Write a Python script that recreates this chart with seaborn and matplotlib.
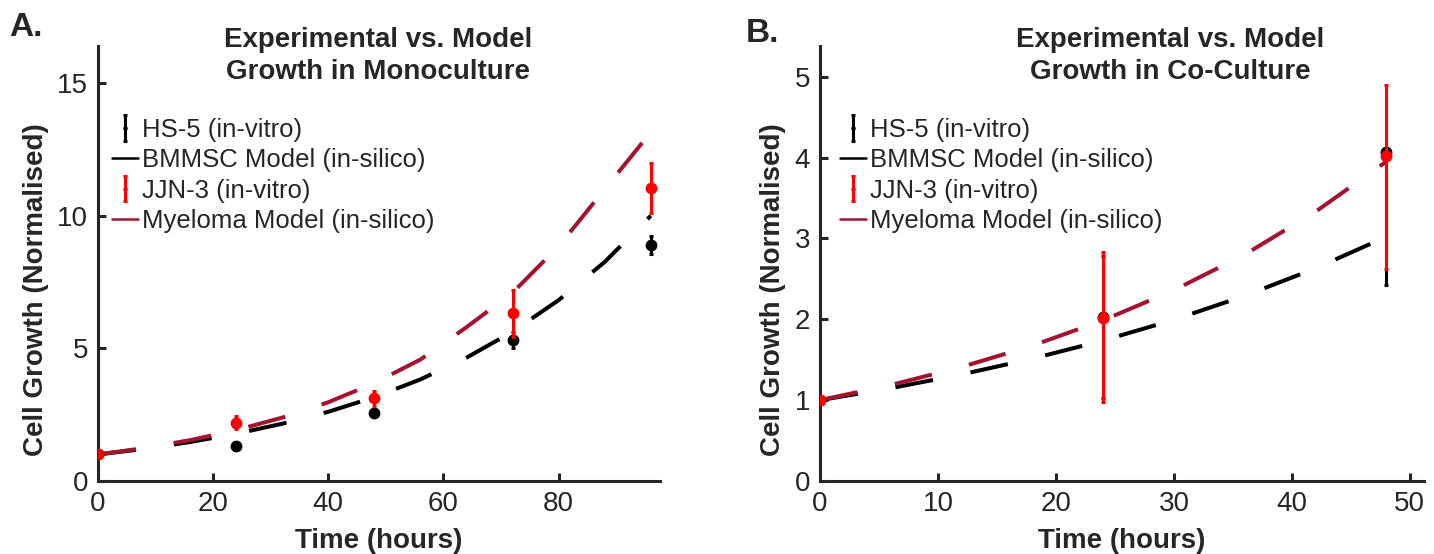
import numpy as np
import pandas as pd
import matplotlib
matplotlib.use('Agg')
import matplotlib.pyplot as plt
from matplotlib.lines import Line2D
import seaborn as sns

# ---- panel A: monoculture ----
mono_t = [0, 24, 48, 72, 96]
hs5_mono = [1.0, 1.32, 2.56, 5.3, 8.9]
hs5_mono_err = [0.0, 0.06, 0.1, 0.3, 0.35]
jjn3_mono = [1.0, 2.2, 3.12, 6.32, 11.05]
jjn3_mono_err = [0.0, 0.25, 0.28, 0.88, 0.95]

mono_model_t = [0, 8, 16, 24, 32, 40, 48, 56, 64, 72, 80, 88, 96]
bmmsc_mono = [1.0, 1.21, 1.47, 1.78, 2.16, 2.61, 3.16, 3.83, 4.65, 5.63, 6.82, 8.26, 10.0]
myeloma_mono = [1.0, 1.24, 1.54, 1.92, 2.39, 2.97, 3.69, 4.58, 5.8, 7.1, 8.85, 11.0, 13.15]

# ---- panel B: co-culture ----
co_t = [0, 24, 48]
hs5_co = [1.0, 2.03, 4.07]
hs5_co_lo = [0.0, 1.0, 1.65]
hs5_co_hi = [0.0, 0.75, 0.05]
jjn3_co = [1.0, 2.02, 4.02]
jjn3_co_lo = [0.0, 1.04, 1.4]
jjn3_co_hi = [0.0, 0.81, 0.88]

co_model_t = [0, 6, 12, 18, 24, 30, 36, 42, 48]
bmmsc_co = [1.0, 1.148, 1.318, 1.513, 1.737, 1.994, 2.29, 2.63, 3.02]
myeloma_co = [1.0, 1.187, 1.41, 1.674, 1.987, 2.36, 2.8, 3.33, 3.95]

labels = ['HS-5 (in-vitro)', 'BMMSC Model (in-silico)', 'JJN-3 (in-vitro)', 'Myeloma Model (in-silico)']

sns.set_style('ticks')
plt.rcParams['font.family'] = ['Liberation Sans', 'DejaVu Sans']
plt.rcParams['axes.linewidth'] = 2.2

fig = plt.figure(figsize=(14.34, 5.54), dpi=100)
axA = fig.add_axes([98/1434, 1-481/554, 562/1434, 435/554])
axB = fig.add_axes([820/1434, 1-481/554, 604/1434, 435/554])

dark_red = '#A2142F'


def draw(ax, t, hs5, hs5_err, jjn, jjn_err, model_t, bm, my, leg_x):
    sns.lineplot(x=model_t, y=bm, ax=ax, color='black', lw=2.9, zorder=2)
    sns.lineplot(x=model_t, y=my, ax=ax, color=dark_red, lw=2.9, zorder=2)
    for ln in ax.get_lines():
        ln.set_linestyle((0, (9.5, 9.5)))
        ln.set_dash_capstyle('butt')
    e1 = ax.errorbar(t, hs5, yerr=hs5_err, fmt='o', color='black', ms=7.5, elinewidth=2.2,
                     capsize=1.5, capthick=2.2, zorder=3)
    e2 = ax.errorbar(t, jjn, yerr=jjn_err, fmt='o', color='red', ms=7.5, elinewidth=2.2,
                     capsize=1.5, capthick=2.2, zorder=4)
    lines = ax.get_lines()
    handles = [e1, lines[0], e2, lines[1]]
    leg = ax.legend(handles, labels, loc='upper left',
                    bbox_to_anchor=(leg_x/1434, 1-108/554), bbox_transform=fig.transFigure,
                    frameon=False, fontsize=18.5, handlelength=1.0, handletextpad=0.15,
                    labelspacing=0.24, markerscale=0.3, borderaxespad=0)
    for h in leg.legend_handles:
        if isinstance(h, Line2D):
            h.set_linestyle('-')
            h.set_linewidth(1.8)
    sns.despine(ax=ax)
    ax.tick_params(direction='in', length=6, width=2.2, labelsize=20, pad=7)
    ax.set_xlabel('Time (hours)', fontsize=20, fontweight='bold', labelpad=8)
    ax.set_ylabel('Cell Growth (Normalised)', fontsize=20, fontweight='bold', labelpad=6)
    ax.yaxis.label.set_y(0.44)


draw(axA, mono_t, hs5_mono, hs5_mono_err, jjn3_mono, jjn3_mono_err,
     mono_model_t, bmmsc_mono, myeloma_mono, 102)
axA.set_xlim(0, 97.6)
axA.set_ylim(0, 16.4)
axA.set_xticks([0, 20, 40, 60, 80])
axA.set_yticks([0, 5, 10, 15])

draw(axB, co_t, hs5_co, [hs5_co_lo, hs5_co_hi], jjn3_co, [jjn3_co_lo, jjn3_co_hi],
     co_model_t, bmmsc_co, myeloma_co, 830)
axB.set_xlim(0, 51.2)
axB.set_ylim(0, 5.38)
axB.set_xticks([0, 10, 20, 30, 40, 50])
axB.set_yticks([0, 1, 2, 3, 4, 5])

for a in (axA, axB):
    for s in a.spines.values():
        s.set_clip_on(False)

fig.text(378/1434, 1-56/554, 'Experimental vs. Model\nGrowth in Monoculture', ha='center', va='center',
         fontsize=20, fontweight='bold', linespacing=1.33)
fig.text(1170/1434, 1-56/554, 'Experimental vs. Model\nGrowth in Co-Culture', ha='center', va='center',
         fontsize=20, fontweight='bold', linespacing=1.33)
fig.text(9/1434, 1-27/554, 'A.', ha='left', va='center', fontsize=24, fontweight='bold')
fig.text(746/1434, 1-33/554, 'B.', ha='left', va='center', fontsize=24, fontweight='bold')

fig.savefig('out.png', dpi=100)
